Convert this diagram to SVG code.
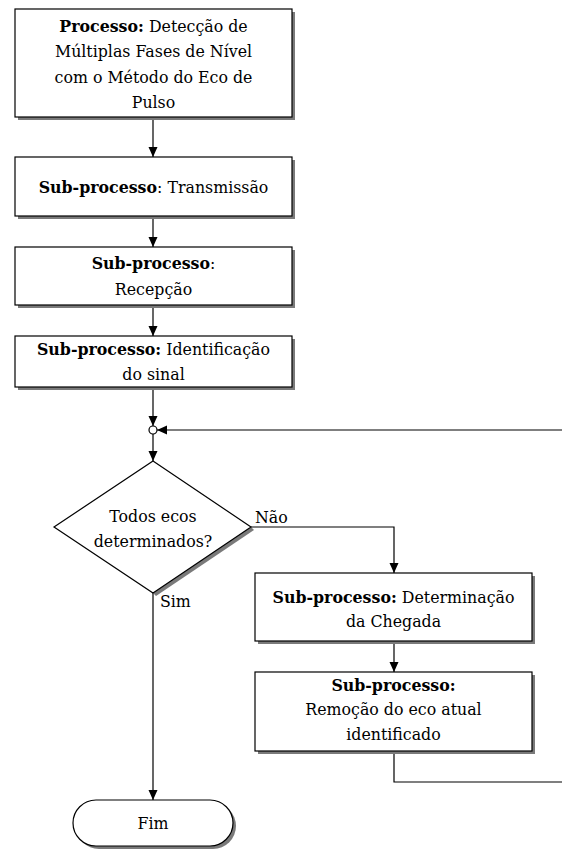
<svg xmlns="http://www.w3.org/2000/svg" width="562" height="854" viewBox="0 0 562 854">
<defs>
<style>
.box{fill:#fff;stroke:#000;stroke-width:1.2}
.sh{fill:#7a7a7a;stroke:none}
.t{font-family:"DejaVu Serif","Liberation Serif",serif;font-size:15.8px;fill:#000;text-anchor:middle}
.l{font-family:"DejaVu Serif","Liberation Serif",serif;font-size:15.8px;fill:#000}
.b{font-weight:bold}
.c{fill:none;stroke:#000;stroke-width:1.2}
</style>
<marker id="ah" viewBox="0 0 10 10" refX="10" refY="5" markerWidth="10" markerHeight="10" markerUnits="userSpaceOnUse" orient="auto">
<path d="M0,0.5 L10,5 L0,9.5 Z" fill="#000"/>
</marker>
</defs>
<rect width="562" height="854" fill="#fff"/>

<g id="connectors">
<path class="c" d="M153,117 V157" marker-end="url(#ah)"/>
<path class="c" d="M153,216 V247" marker-end="url(#ah)"/>
<path class="c" d="M153,305 V336" marker-end="url(#ah)"/>
<path class="c" d="M153,387 V426" marker-end="url(#ah)"/>
<path class="c" d="M562,430 H157" marker-end="url(#ah)"/>
<path class="c" d="M153,434 V461" marker-end="url(#ah)"/>
<path class="c" d="M251,527 H394 V573" marker-end="url(#ah)"/>
<path class="c" d="M394,641 V672" marker-end="url(#ah)"/>
<path class="c" d="M394,751 V782 H562"/>
<path class="c" d="M153,593 V800" marker-end="url(#ah)"/>
<circle cx="153" cy="430" r="4" fill="#fff" stroke="#000" stroke-width="1.2"/>
<text class="l" x="255" y="523">Não</text>
<text class="l" x="160" y="607">Sim</text>
</g>

<g id="n1">
<rect class="sh" x="18" y="12" width="277" height="108"/>
<rect class="box" x="15" y="9" width="277" height="108"/>
<text class="t" x="153.5" y="31.5"><tspan class="b">Processo:</tspan> Detecção de</text>
<text class="t" x="153.5" y="57">Múltiplas Fases de Nível</text>
<text class="t" x="153.5" y="82.5">com o Método do Eco de</text>
<text class="t" x="153.5" y="108">Pulso</text>
</g>

<g id="n2">
<rect class="sh" x="18" y="160" width="277" height="59"/>
<rect class="box" x="15" y="157" width="277" height="59"/>
<text class="t" x="153.5" y="193"><tspan class="b">Sub-processo</tspan>: Transmissão</text>
</g>

<g id="n3">
<rect class="sh" x="18" y="250" width="277" height="58"/>
<rect class="box" x="15" y="247" width="277" height="58"/>
<text class="t" x="153.5" y="269"><tspan class="b">Sub-processo</tspan>:</text>
<text class="t" x="153.5" y="295">Recepção</text>
</g>

<g id="n4">
<rect class="sh" x="18" y="339" width="277" height="51"/>
<rect class="box" x="15" y="336" width="277" height="51"/>
<text class="t" x="153.5" y="355"><tspan class="b">Sub-processo:</tspan> Identificação</text>
<text class="t" x="153.5" y="380">do sinal</text>
</g>

<g id="decision">
<path class="sh" d="M251,527 L254,530 L156,596 L153,593 Z"/>
<path class="box" d="M153,461 L251,527 L153,593 L54,527 Z"/>
<text class="t" x="153" y="522">Todos ecos</text>
<text class="t" x="153" y="547">determinados?</text>
</g>

<g id="n5">
<rect class="sh" x="258" y="576" width="277" height="68"/>
<rect class="box" x="255" y="573" width="277" height="68"/>
<text class="t" x="393.5" y="603"><tspan class="b">Sub-processo:</tspan> Determinação</text>
<text class="t" x="393.5" y="627">da Chegada</text>
</g>

<g id="n6">
<rect class="sh" x="258" y="675" width="277" height="79"/>
<rect class="box" x="255" y="672" width="277" height="79"/>
<text class="t" x="393.5" y="691"><tspan class="b">Sub-processo:</tspan></text>
<text class="t" x="393.5" y="715">Remoção do eco atual</text>
<text class="t" x="393.5" y="740">identificado</text>
</g>

<g id="fim">
<rect class="sh" x="76" y="803" width="160" height="46" rx="23"/>
<rect class="box" x="73" y="800" width="160" height="46" rx="23"/>
<text class="t" x="153" y="829">Fim</text>
</g>
</svg>
